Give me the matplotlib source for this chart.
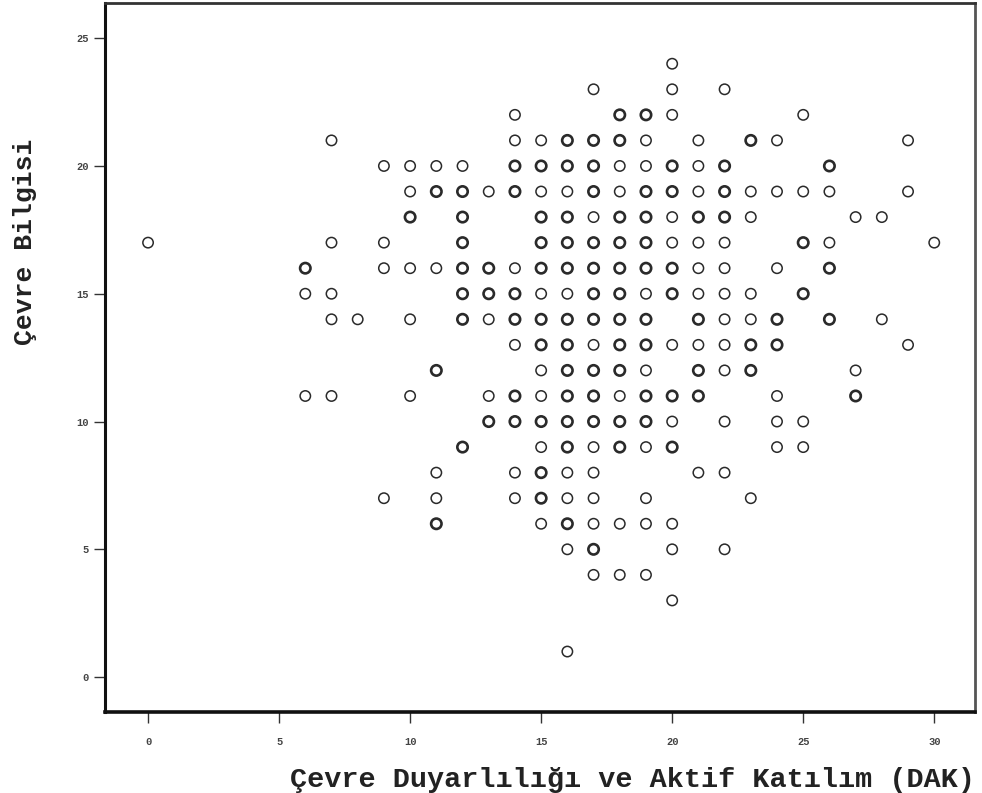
import matplotlib
matplotlib.use("Agg")
import matplotlib.pyplot as plt
import numpy as np

# DAK score (x), Cevre Bilgisi score (y), and overlap count (1 = single, 2 = several)
dak = [
    20,
    17, 20, 22,
    14, 18, 19, 20, 25,
    7, 14, 15, 16, 17, 18, 19, 21, 23, 24, 29,
    9, 10, 11, 12, 14, 15, 16, 17, 18, 19, 20, 21, 22, 26,
    10, 11, 12, 13, 14, 15, 16, 17, 18, 19, 20, 21, 22, 23, 24, 25, 26, 29,
    10, 12, 15, 16, 17, 18, 19, 20, 21, 22, 23, 27, 28,
    0, 7, 9, 12, 15, 16, 17, 18, 19, 20, 21, 22, 25, 26, 30,
    6, 9, 10, 11, 12, 13, 14, 15, 16, 17, 18, 19, 20, 21, 22, 24, 26,
    6, 7, 12, 13, 14, 15, 16, 17, 18, 19, 20, 21, 22, 23, 25,
    7, 8, 10, 12, 13, 14, 15, 16, 17, 18, 19, 21, 22, 23, 24, 26, 28,
    14, 15, 16, 17, 18, 19, 20, 21, 22, 23, 24, 29,
    11, 15, 16, 17, 18, 19, 21, 22, 23, 27,
    6, 7, 10, 13, 14, 15, 16, 17, 18, 19, 20, 21, 24, 27,
    13, 14, 15, 16, 17, 18, 19, 20, 22, 24, 25,
    12, 15, 16, 17, 18, 19, 20, 24, 25,
    11, 14, 15, 16, 17, 21, 22,
    9, 11, 14, 15, 16, 17, 19, 23,
    11, 15, 16, 17, 18, 19, 20,
    16, 17, 20, 22,
    17, 18, 19,
    20,
    16,
]
bilgi = [
    24,
    23, 23, 23,
    22, 22, 22, 22, 22,
    21, 21, 21, 21, 21, 21, 21, 21, 21, 21, 21,
    20, 20, 20, 20, 20, 20, 20, 20, 20, 20, 20, 20, 20, 20,
    19, 19, 19, 19, 19, 19, 19, 19, 19, 19, 19, 19, 19, 19, 19, 19, 19, 19,
    18, 18, 18, 18, 18, 18, 18, 18, 18, 18, 18, 18, 18,
    17, 17, 17, 17, 17, 17, 17, 17, 17, 17, 17, 17, 17, 17, 17,
    16, 16, 16, 16, 16, 16, 16, 16, 16, 16, 16, 16, 16, 16, 16, 16, 16,
    15, 15, 15, 15, 15, 15, 15, 15, 15, 15, 15, 15, 15, 15, 15,
    14, 14, 14, 14, 14, 14, 14, 14, 14, 14, 14, 14, 14, 14, 14, 14, 14,
    13, 13, 13, 13, 13, 13, 13, 13, 13, 13, 13, 13,
    12, 12, 12, 12, 12, 12, 12, 12, 12, 12,
    11, 11, 11, 11, 11, 11, 11, 11, 11, 11, 11, 11, 11, 11,
    10, 10, 10, 10, 10, 10, 10, 10, 10, 10, 10,
    9, 9, 9, 9, 9, 9, 9, 9, 9,
    8, 8, 8, 8, 8, 8, 8,
    7, 7, 7, 7, 7, 7, 7, 7,
    6, 6, 6, 6, 6, 6, 6,
    5, 5, 5, 5,
    4, 4, 4,
    3,
    1,
]
count = [
    1,
    1, 1, 1,
    1, 2, 2, 1, 1,
    1, 1, 1, 2, 2, 2, 1, 1, 2, 1, 1,
    1, 1, 1, 1, 2, 2, 2, 2, 1, 1, 2, 1, 2, 2,
    1, 2, 2, 1, 2, 1, 1, 2, 1, 2, 2, 1, 2, 1, 1, 1, 1, 1,
    2, 2, 2, 2, 1, 2, 2, 1, 2, 2, 1, 1, 1,
    1, 1, 1, 2, 2, 2, 2, 2, 2, 1, 1, 1, 2, 1, 1,
    2, 1, 1, 1, 2, 2, 1, 2, 2, 2, 2, 2, 2, 1, 1, 1, 2,
    1, 1, 2, 2, 2, 1, 1, 2, 2, 1, 2, 1, 1, 1, 2,
    1, 1, 1, 2, 1, 2, 2, 2, 2, 2, 2, 2, 1, 1, 2, 2, 1,
    1, 2, 2, 1, 2, 2, 1, 1, 1, 2, 2, 1,
    2, 1, 2, 2, 2, 1, 2, 1, 2, 1,
    1, 1, 1, 1, 2, 1, 2, 2, 1, 2, 2, 2, 1, 2,
    2, 2, 2, 2, 2, 2, 2, 1, 1, 1, 1,
    2, 1, 2, 1, 2, 1, 2, 1, 1,
    1, 1, 2, 1, 1, 1, 1,
    1, 1, 1, 2, 1, 1, 1, 1,
    2, 1, 2, 1, 1, 1, 1,
    1, 2, 1, 1,
    1, 1, 1,
    1,
    1,
]

x_ticks = [0, 5, 10, 15, 20, 25, 30]
y_ticks = [0, 5, 10, 15, 20, 25]

mono = ["Liberation Mono", "DejaVu Sans Mono"]

fig = plt.figure(figsize=(9.82, 7.93), dpi=100)
ax = fig.add_axes([0.107, 0.102, 0.886, 0.894])

lw = np.where(np.array(count) > 1, 1.9, 1.1)
ax.scatter(dak, bilgi, s=56, facecolors="none", edgecolors="#2a2a2a", linewidths=lw)

ax.set_xlim(-1.64, 31.56)
ax.set_ylim(-1.37, 26.37)
ax.set_xticks(x_ticks)
ax.set_yticks(y_ticks)
ax.set_xticklabels([str(t) for t in x_ticks], family=mono, fontsize=7.5, fontweight="bold", color="#444")
ax.set_yticklabels([str(t) for t in y_ticks], family=mono, fontsize=7.5, fontweight="bold", color="#444")
ax.tick_params(axis="x", direction="out", length=8, width=1, pad=10, color="#333")
ax.tick_params(axis="y", direction="out", length=8, width=1, pad=4, color="#333")

ax.spines["left"].set_linewidth(2.2)
ax.spines["bottom"].set_linewidth(2.6)
ax.spines["top"].set_linewidth(2.0)
ax.spines["right"].set_linewidth(2.0)
ax.spines["top"].set_color("#333")
ax.spines["right"].set_color("#555")
ax.spines["left"].set_color("#111")
ax.spines["bottom"].set_color("#111")

ax.set_xlabel("Çevre Duyarlılığı ve Aktif Katılım (DAK)", family=mono,
              fontsize=20.5, fontweight="bold", color="#222")
ax.xaxis.set_label_coords(0.606, -0.077)
ax.set_ylabel("Çevre Bilgisi", family=mono, fontsize=19, fontweight="bold", color="#222")
ax.yaxis.set_label_coords(-0.078, 0.663)

fig.savefig("out.png", dpi=100)
